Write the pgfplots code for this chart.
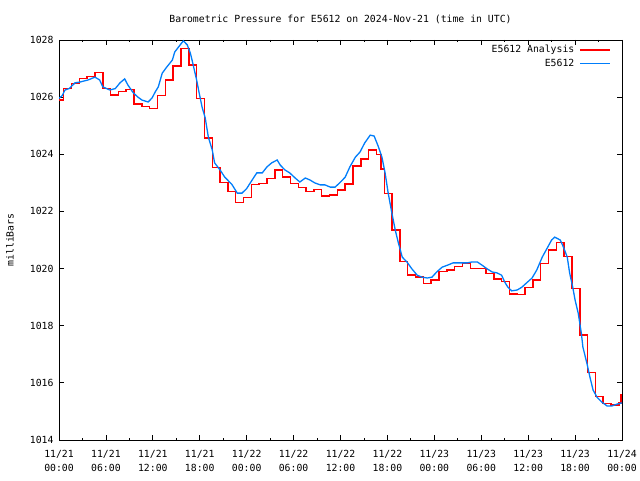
\documentclass[border=0pt]{standalone}
\usepackage{pgfplots}
\pgfplotsset{compat=1.18}
\usepackage{fontspec}
\setmainfont{DejaVu Sans Mono}
\definecolor{obsblue}{RGB}{0,125,250}
\definecolor{anared}{RGB}{255,0,0}
\begin{document}
\fontsize{9.8}{11}\selectfont
\begin{tikzpicture}
\path[use as bounding box] (0,0) rectangle (640pt,480pt);
\begin{axis}[
  at={(59pt,40pt)}, anchor=south west,
  width=563pt, height=400pt, scale only axis,
  xmin=0, xmax=72, ymin=1014, ymax=1028,
  xtick={0,6,...,72},
  minor x tick num=1,
  xticklabels={11/21\\00:00,11/21\\06:00,11/21\\12:00,11/21\\18:00,11/22\\00:00,11/22\\06:00,11/22\\12:00,11/22\\18:00,11/23\\00:00,11/23\\06:00,11/23\\12:00,11/23\\18:00,11/24\\00:00},
  xticklabel style={align=center, font=\fontsize{9.8}{13.5}\selectfont, yshift=-7pt},
  ytick={1014,1016,...,1028},
  yticklabels={1014,1016,1018,1020,1022,1024,1026,1028},
  yticklabel style={font=\fontsize{9.8}{11}\selectfont, xshift=-2pt},
  tick align=inside,
  major tick length=5pt, minor tick length=2.5pt,
  tick style={black, line width=0.8pt},
  axis line style={black, line width=0.9pt},
  legend style={draw=none, fill=none, at={(0.9805,0.992)}, anchor=north east,
    font=\fontsize{9.8}{11}\selectfont, row sep=0.5pt, column sep=3pt, inner sep=0pt},
  legend cell align=right,
  legend plot pos=right,
  legend image code/.code={\draw[mark repeat=2,mark phase=2,#1] plot coordinates {(0pt,0pt) (15pt,0pt) (30pt,0pt)};},
]
\addplot[const plot, color=anared, line width=1.5pt] coordinates {
(0,1025.9) (0.6,1026.31) (1.6,1026.48) (2.6,1026.66) (3.6,1026.72) (4.6,1026.86)
(5.6,1026.31) (6.6,1026.07) (7.6,1026.19) (8.6,1026.27) (9.6,1025.76) (10.6,1025.67)
(11.6,1025.6) (12.6,1026.06) (13.6,1026.6) (14.6,1027.09) (15.6,1027.71) (16.6,1027.12)
(17.6,1025.96) (18.6,1024.57) (19.6,1023.53) (20.6,1023.02) (21.6,1022.7) (22.6,1022.32)
(23.6,1022.49) (24.6,1022.95) (25.6,1022.98) (26.6,1023.16) (27.6,1023.45) (28.6,1023.2)
(29.6,1022.98) (30.6,1022.83) (31.6,1022.69) (32.6,1022.77) (33.6,1022.54) (34.6,1022.58)
(35.6,1022.75) (36.6,1022.96) (37.6,1023.59) (38.6,1023.83) (39.6,1024.15) (40.6,1024.0)
(41.2,1023.48) (41.6,1022.63) (42.6,1021.35) (43.6,1020.24) (44.6,1019.77) (45.6,1019.7)
(46.6,1019.48) (47.6,1019.6) (48.6,1019.89) (49.6,1019.95) (50.6,1020.07) (51.6,1020.18)
(52.6,1020.0) (53.6,1020.0) (54.6,1019.83) (55.6,1019.63) (56.6,1019.54) (57.6,1019.11)
(58.6,1019.09) (59.6,1019.33) (60.6,1019.6) (61.6,1020.18) (62.6,1020.65) (63.6,1020.92)
(64.6,1020.43) (65.6,1019.31) (66.6,1017.67) (67.6,1016.37) (68.6,1015.52) (69.6,1015.28)
(70.6,1015.23) (71.6,1015.3) (71.85,1015.6) (72,1015.6)
};
\addlegendentry{E5612 Analysis}
\addplot[color=obsblue, line width=1.3pt] coordinates {
(0.0,1025.96) (0.4,1026.05) (0.77,1026.25) (1.3,1026.3) (2.05,1026.5) (2.7,1026.53)
(3.7,1026.6) (4.6,1026.7) (5.2,1026.6) (5.6,1026.36) (6.5,1026.25) (7.2,1026.3)
(7.8,1026.5) (8.4,1026.64) (8.8,1026.43) (9.5,1026.15) (10.1,1026.0) (10.6,1025.9)
(11.4,1025.83) (11.9,1025.97) (12.3,1026.18) (12.7,1026.36) (13.2,1026.84) (13.8,1027.06)
(14.5,1027.3) (14.8,1027.58) (15.5,1027.83) (15.9,1027.97) (16.4,1027.83) (16.8,1027.54)
(17.1,1027.2) (17.6,1026.6) (17.9,1026.18) (18.3,1025.65) (18.7,1025.27) (19.1,1024.6)
(19.6,1024.15) (19.9,1023.7) (20.6,1023.45) (21.2,1023.2) (22.1,1022.95) (22.8,1022.64)
(23.4,1022.64) (24.0,1022.8) (24.7,1023.1) (25.3,1023.35) (26.0,1023.35) (26.6,1023.56)
(27.2,1023.7) (27.9,1023.8) (28.3,1023.62) (28.9,1023.45) (29.5,1023.35) (30.2,1023.17)
(30.8,1023.03) (31.5,1023.17) (32.1,1023.1) (32.7,1023.0) (33.4,1022.93) (34.0,1022.93)
(34.7,1022.85) (35.3,1022.85) (35.9,1023.0) (36.6,1023.2) (37.2,1023.56) (37.9,1023.9)
(38.5,1024.08) (39.1,1024.4) (39.8,1024.67) (40.3,1024.64) (40.8,1024.3) (41.3,1023.9)
(41.7,1023.35) (42.1,1022.64) (42.6,1021.9) (43.0,1021.35) (43.4,1020.9) (43.9,1020.4)
(44.5,1020.23) (45.1,1020.0) (45.8,1019.77) (46.4,1019.7) (47.1,1019.67) (47.7,1019.7)
(48.3,1019.88) (49.0,1020.05) (49.7,1020.12) (50.4,1020.2) (51.3,1020.2) (52.2,1020.2)
(52.8,1020.23) (53.5,1020.23) (54.1,1020.12) (54.7,1020.0) (55.4,1019.88) (56.0,1019.85)
(56.6,1019.77) (57.0,1019.53) (57.4,1019.35) (57.9,1019.22) (58.6,1019.25) (59.2,1019.35)
(59.8,1019.5) (60.5,1019.67) (61.1,1019.95) (61.8,1020.4) (62.4,1020.7) (63.0,1021.0)
(63.4,1021.1) (64.1,1021.0) (64.5,1020.76) (65.0,1020.4) (65.3,1019.85) (65.7,1019.35)
(66.0,1018.9) (66.4,1018.44) (66.8,1017.74) (67.0,1017.25) (67.5,1016.7) (67.9,1016.2)
(68.3,1015.75) (68.8,1015.5) (69.4,1015.33) (70.1,1015.19) (70.7,1015.19) (71.4,1015.26)
(72.0,1015.3)
};
\addlegendentry{E5612}
\end{axis}
\node at (340.5pt,461pt) {Barometric Pressure for E5612 on 2024-Nov-21 (time in UTC)};
\node[rotate=90] at (10pt,240pt) {milliBars};
\end{tikzpicture}
\end{document}
